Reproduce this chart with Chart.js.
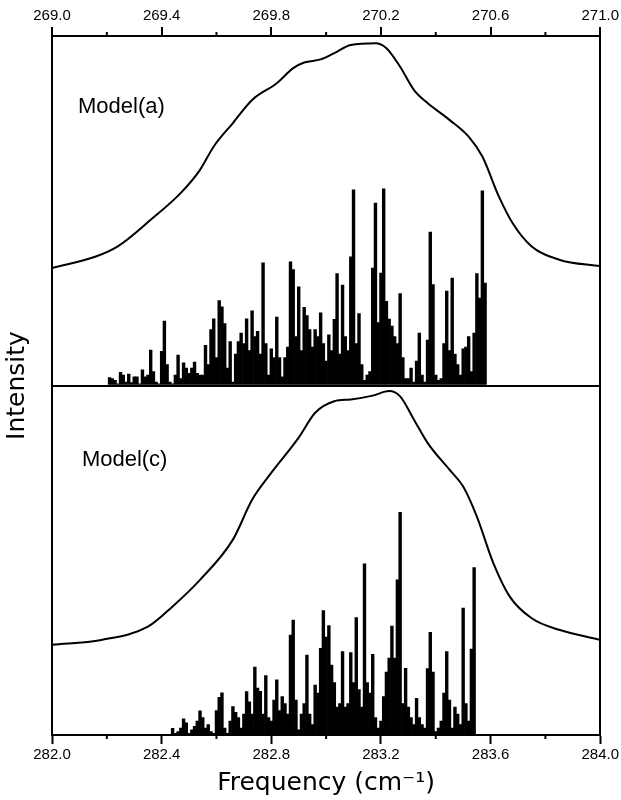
<!DOCTYPE html>
<html><head><meta charset="utf-8">
<script src="https://cdn.jsdelivr.net/npm/chart.js@4.4.0/dist/chart.umd.min.js"></script>
<style>html,body{margin:0;padding:0;background:#fff;}canvas{display:block;}</style>
</head><body>
<canvas id="c" width="621" height="800"></canvas>
<script>
// ---- tick labels ----
const topTicks = [269.0, 269.4, 269.8, 270.2, 270.6, 271.0];
const topMinor = [269.2, 269.6, 270.0, 270.4, 270.8];
const botTicks = [282.0, 282.4, 282.8, 283.2, 283.6, 284.0];
const botMinor = [282.2, 282.6, 283.0, 283.4, 283.8];
const panelLabels = ['Model(a)', 'Model(c)'];

// ---- Model(a) envelope ----
const curveAFreq = [269.00,269.16,269.24,269.36,269.47,269.54,269.59,269.66,269.73,269.82,269.88,269.92,269.98,270.03,270.09,270.18,270.22,270.27,270.32,270.37,270.45,270.52,270.57,270.63,270.68,270.75,270.85,271.00];
const curveAInt  = [33.6,36.9,39.8,47.4,55.1,61.7,68.4,75.1,81.7,86.5,90.8,92.4,93.3,95.1,97.4,97.9,96.5,91.2,84.6,80.8,76.0,71.2,65.5,54.1,46.5,39.8,36.0,34.1];

// ---- Model(a) stick spectrum ----
const topFreq = [
269.21,269.22,269.23,269.24,269.25,269.26,269.27,269.28,269.29,269.30,
269.31,269.32,269.33,269.34,269.35,269.36,269.37,269.38,269.39,269.40,
269.41,269.42,269.43,269.44,269.45,269.46,269.47,269.48,269.49,269.50,
269.51,269.52,269.53,269.54,269.55,269.56,269.57,269.58,269.59,269.60,
269.61,269.62,269.63,269.64,269.65,269.66,269.67,269.68,269.69,269.70,
269.71,269.72,269.73,269.74,269.75,269.76,269.77,269.78,269.79,269.80,
269.81,269.82,269.83,269.84,269.85,269.86,269.87,269.88,269.89,269.90,
269.91,269.92,269.93,269.94,269.95,269.96,269.97,269.98,269.99,270.00,
270.01,270.02,270.03,270.04,270.05,270.06,270.07,270.08,270.09,270.10,
270.11,270.12,270.13,270.14,270.15,270.16,270.17,270.18,270.19,270.20,
270.21,270.22,270.23,270.24,270.25,270.26,270.27,270.28,270.29,270.30,
270.31,270.32,270.33,270.34,270.35,270.36,270.37,270.38,270.39,270.40,
270.41,270.42,270.43,270.44,270.45,270.46,270.47,270.48,270.49,270.50,
270.51,270.52,270.53,270.54,270.55,270.56,270.57,270.58];
const topInt = [
2.3,2.0,1.5,0.5,3.8,3.0,1.0,3.3,0.8,2.5,
2.5,0.5,4.5,2.5,3.0,10.1,4.0,1.0,0.5,9.8,
18.4,6.0,1.0,0.5,3.0,8.7,2.0,6.5,5.0,3.5,
5.0,6.7,3.5,3.0,3.0,11.5,6.0,16.0,19.1,8.0,
24.3,22.5,17.7,5.0,12.6,1.0,9.0,12.6,15.0,12.0,
19.1,10.0,21.4,14.0,15.5,9.0,35.1,12.0,3.0,10.5,
8.0,19.6,8.0,2.5,8.0,11.0,35.4,33.2,14.0,28.2,
10.0,22.4,20.0,16.0,11.0,16.0,14.0,20.8,12.0,7.0,
14.5,10.0,18.9,32.0,9.0,28.7,14.0,10.0,36.8,56.0,
12.0,20.6,6.0,1.5,3.0,4.0,33.6,52.2,18.0,32.2,
56.3,24.1,19.0,17.0,14.0,12.0,26.3,8.0,2.0,2.0,
5.0,1.0,7.0,15.0,3.0,1.0,13.0,43.9,28.9,3.0,
1.5,2.0,12.0,27.0,10.0,30.7,9.0,6.0,3.0,10.5,
11.0,14.0,4.0,15.0,32.0,25.0,55.7,29.3];

// ---- Model(c) envelope ----
const curveCFreq = [282.00,282.18,282.35,282.44,282.54,282.66,282.73,282.79,282.90,282.96,283.03,283.09,283.17,283.23,283.27,283.32,283.37,283.45,283.50,283.55,283.61,283.67,283.75,283.85,284.00];
const curveCInt  = [25.8,27.2,31.0,36.8,44.4,55.9,67.3,74.0,85.1,92.2,95.5,96.0,97.1,98.4,96.9,90.3,83.6,75.9,71.1,62.5,49.2,39.6,33.4,30.1,27.2];

// ---- Model(c) stick spectrum ----
const botFreq = [
282.44,282.45,282.46,282.47,282.48,282.49,282.50,
282.51,282.52,282.53,282.54,282.55,282.56,282.57,282.58,282.59,282.60,
282.61,282.62,282.63,282.64,282.65,282.66,282.67,282.68,282.69,282.70,
282.71,282.72,282.73,282.74,282.75,282.76,282.77,282.78,282.79,282.80,
282.81,282.82,282.83,282.84,282.85,282.86,282.87,282.88,282.89,282.90,
282.91,282.92,282.93,282.94,282.95,282.96,282.97,282.98,282.99,283.00,
283.01,283.02,283.03,283.04,283.05,283.06,283.07,283.08,283.09,283.10,
283.11,283.12,283.13,283.14,283.15,283.16,283.17,283.18,283.19,283.20,
283.21,283.22,283.23,283.24,283.25,283.26,283.27,283.28,283.29,283.30,
283.31,283.32,283.33,283.34,283.35,283.36,283.37,283.38,283.39,283.40,
283.41,283.42,283.43,283.44,283.45,283.46,283.47,283.48,283.49,283.50,
283.51,283.52,283.53,283.54];
const botInt = [
1.9,0.5,1.0,2.0,4.6,3.5,0.5,1.5,2.5,4.0,
6.9,5.0,2.0,3.0,1.0,0.5,7.0,10.8,12.1,2.0,
0.5,4.0,8.1,6.5,5.0,2.0,6.0,12.4,9.5,6.0,
19.4,13.4,12.5,6.0,17.0,5.0,4.0,10.0,15.8,7.0,
11.0,9.0,6.0,28.6,32.9,10.0,1.5,6.0,9.0,22.9,
6.0,3.0,14.3,12.0,24.8,35.6,28.0,31.3,20.0,15.0,
8.0,9.0,23.9,8.0,9.0,23.6,15.0,33.6,13.0,8.0,
49.0,15.0,12.0,23.1,5.0,2.0,4.0,11.0,18.0,22.0,
31.2,22.0,44.4,63.7,9.0,19.1,8.0,5.0,3.0,10.5,
5.0,3.0,2.0,19.0,29.4,18.0,1.0,2.0,4.0,12.0,
23.9,10.0,2.0,8.0,6.0,3.0,36.3,9.0,4.0,24.6,47.9];

const BLACK = '#000';
const CLEAR = 'rgba(0,0,0,0)';
const FONT = '"Liberation Sans", Arial, sans-serif';
const TFONT = '"DejaVu Sans", "Liberation Sans", sans-serif';
const pts = (xs, ys) => xs.map((x, i) => ({x: x, y: ys[i]}));

const decor = {
  id: 'decor',
  afterDraw(chart) {
    const c = chart.ctx, s = chart.scales;
    c.save();
    c.strokeStyle = BLACK; c.lineWidth = 2;
    topMinor.forEach(v => {
      const x = s.xA.getPixelForValue(v);
      c.beginPath(); c.moveTo(x, s.xA.bottom); c.lineTo(x, s.xA.bottom - 4); c.stroke();
    });
    botMinor.forEach(v => {
      const x = s.xC.getPixelForValue(v);
      c.beginPath(); c.moveTo(x, s.xC.top); c.lineTo(x, s.xC.top + 4); c.stroke();
    });
    c.fillStyle = BLACK;
    c.font = '22px ' + FONT;
    c.textBaseline = 'middle';
    c.textAlign = 'left';
    c.fillText(panelLabels[0], s.xA.getPixelForValue(269.095), s.yA.getPixelForValue(79.7));
    c.fillText(panelLabels[1], s.xC.getPixelForValue(282.109), s.yC.getPixelForValue(78.8));
    c.restore();
  }
};

const xCommon = (min, max, ticksArr) => ({
  type: 'linear', min: min, max: max, offset: false,
  afterBuildTicks: sc => { sc.ticks = ticksArr.map(v => ({value: v})); },
  ticks: {callback: v => Number(v).toFixed(1), color: BLACK, font: {family: FONT, size: 15}, padding: 2, maxRotation: 0, autoSkip: false},
  border: {display: true, color: BLACK, width: 2}
});

new Chart(document.getElementById('c'), {
  type: 'bar',
  data: {datasets: [
    {type: 'line', data: pts(curveAFreq, curveAInt), xAxisID: 'xA', yAxisID: 'yA', borderColor: BLACK, borderWidth: 2, pointRadius: 0, cubicInterpolationMode: 'monotone', fill: false},
    {type: 'bar', data: pts(topFreq, topInt), xAxisID: 'xA', yAxisID: 'yA', backgroundColor: BLACK, barThickness: 2.75, grouped: false, borderWidth: 0},
    {type: 'line', data: pts(curveCFreq, curveCInt), xAxisID: 'xC', yAxisID: 'yC', borderColor: BLACK, borderWidth: 2, pointRadius: 0, cubicInterpolationMode: 'monotone', fill: false},
    {type: 'bar', data: pts(botFreq, botInt), xAxisID: 'xC', yAxisID: 'yC', backgroundColor: BLACK, barThickness: 2.75, grouped: false, borderWidth: 0}
  ]},
  options: {
    responsive: false, animation: false, devicePixelRatio: 1,
    layout: {padding: {top: 0, right: 20, bottom: 0, left: 0}},
    plugins: {
      legend: {display: false}, tooltip: {enabled: false},
      title: {display: true, text: 'Intensity', position: 'left', fullSize: false, color: BLACK,
        font: {family: TFONT, size: 25, weight: 'normal'}, padding: {top: 2, bottom: 6}}
    },
    scales: {
      xA: Object.assign(xCommon(269, 271, topTicks), {
        position: 'top',
        grid: {offset: false, drawOnChartArea: true, color: ctx => (ctx.tick && Math.abs(ctx.tick.value - 271) < 1e-6) ? BLACK : CLEAR, lineWidth: 2, tickColor: BLACK, tickLength: 9, tickWidth: 2},
        afterFit: sc => { sc.height = 36; }
      }),
      xC: Object.assign(xCommon(282, 284, botTicks), {
        position: 'bottom',
        grid: {offset: false, drawOnChartArea: false, color: BLACK, tickColor: BLACK, tickLength: 9, tickWidth: 2},
        title: {display: true, text: 'Frequency (cm\u207B\u00B9)', color: BLACK, font: {family: TFONT, size: 25}, padding: {top: 0, bottom: 2}},
        afterFit: sc => { sc.height = 65; }
      }),
      yC: {type: 'linear', position: 'left', stack: 'int', stackWeight: 1, min: 0, max: 100,
        ticks: {display: false},
        grid: {drawTicks: false, color: ctx => (ctx.tick && ctx.tick.value === 0) ? BLACK : CLEAR, lineWidth: 2},
        border: {display: true, color: BLACK, width: 2},
        afterFit: sc => { sc.width = 14; }},
      yA: {type: 'linear', position: 'left', stack: 'int', stackWeight: 1, min: 0, max: 100,
        ticks: {display: false},
        grid: {drawTicks: false, color: ctx => (ctx.tick && ctx.tick.value === 0) ? BLACK : CLEAR, lineWidth: 2},
        border: {display: true, color: BLACK, width: 2},
        afterFit: sc => { sc.width = 14; }}
    }
  },
  plugins: [decor]
});
</script>
</body></html>
